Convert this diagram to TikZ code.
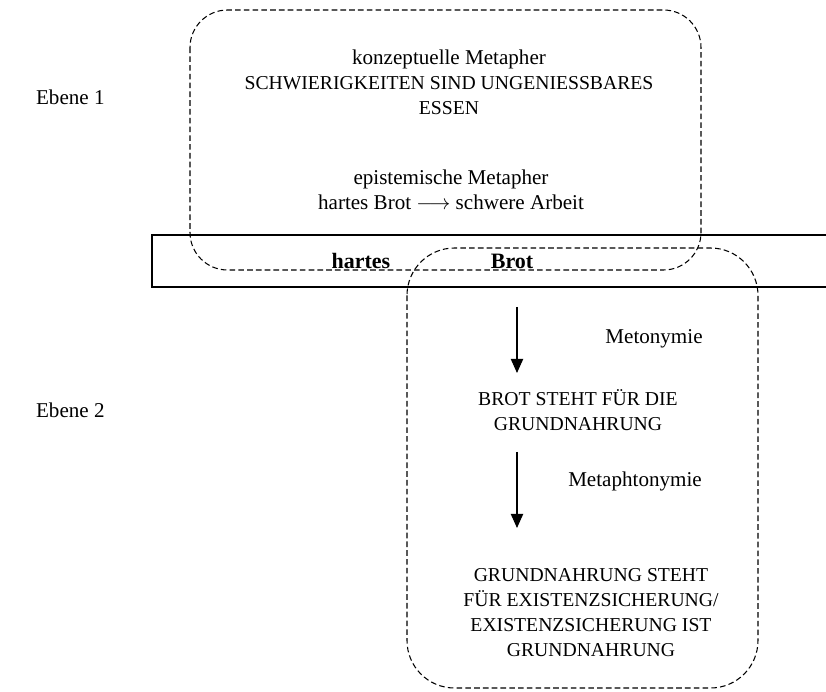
\documentclass[tikz,border=0pt]{standalone}
\usepackage{fontspec}
\setmainfont{Liberation Serif}
\usetikzlibrary{arrows.meta}

% caps lines run a little smaller than the running text
\newcommand{\capsz}{\fontsize{11.2}{14.2}\selectfont}

\tikzset{
  txt/.style={align=center, font=\fontsize{12}{14.2}\selectfont, inner sep=1pt},
  capstxt/.style={txt, font=\capsz},
  word/.style={txt, font=\fontsize{12.5}{14.2}\selectfont\bfseries},
  cloud/.style={draw, dash pattern=on 3.2pt off 1.8pt, line width=0.6pt},
  steparrow/.style={draw, -{Triangle[width=7pt,length=8pt]}, line width=0.6pt}
}

\begin{document}
\begin{tikzpicture}[x=0.02cm, y=-0.02cm]
        \useasboundingbox (0,0) rectangle (826,692);

        % The word strip carrying the phrase
        \draw[line width=0.6pt] (152,235) rectangle (830,287);
        \node[word] (hartes) at (361,261) {hartes};
        \node[word] (brot) at (512,261) {Brot};

        % Upper level: the two metaphors
        \draw[cloud, rounded corners=0.75cm] (190,10) rectangle (701,270);
        \node[txt] (konz) at (449,82) {konzeptuelle Metapher\\\capsz SCHWIERIGKEITEN SIND UNGENIESSBARES\\\capsz ESSEN};
        \node[txt] (epist) at (451,190) {epistemische Metapher\\hartes Brot $\longrightarrow$ schwere Arbeit};

        % Lower level: metonymy chain
        \draw[cloud, rounded corners=0.95cm] (407,248) rectangle (758,688);
        \node[capstxt] (grund) at (578,410) {BROT STEHT FÜR DIE\\GRUNDNAHRUNG};
        \node[capstxt] (exist) at (591,613) {GRUNDNAHRUNG STEHT\\FÜR EXISTENZSICHERUNG/\\EXISTENZSICHERUNG IST\\GRUNDNAHRUNG};
        \node[txt] (meto) at (654,339) {Metonymie};
        \node[txt] (metaph) at (635,481) {Metaphtonymie};

        % Arrows between the steps
        \coordinate (a1) at (517,307);
        \coordinate (b1) at (517,373);
        \coordinate (a2) at (517,452);
        \coordinate (b2) at (517,528);
        \draw[steparrow] (a1) -- (b1);
        \draw[steparrow] (a2) -- (b2);

        % Level labels
        \node[txt, anchor=west] (eb1) at (34,97) {Ebene 1};
        \node[txt, anchor=west] (eb2) at (34,410) {Ebene 2};
\end{tikzpicture}
\end{document}
